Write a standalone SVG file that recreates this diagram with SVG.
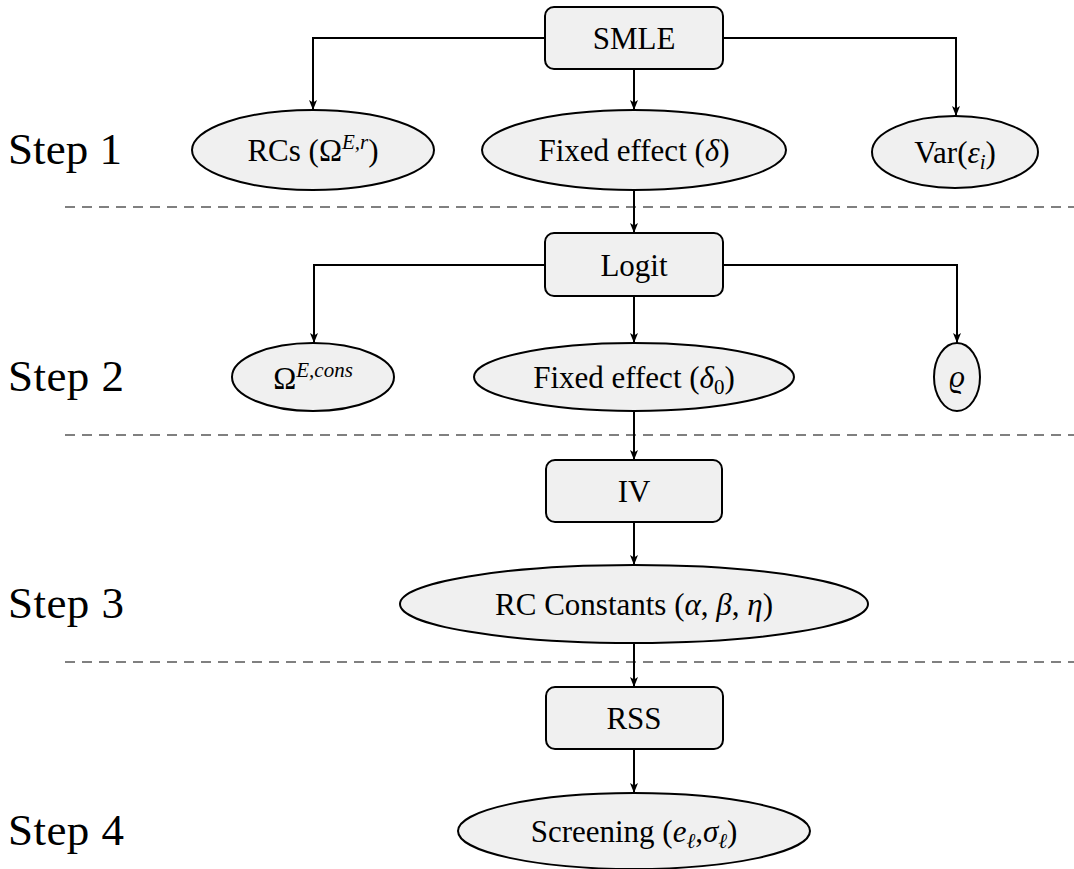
<svg xmlns="http://www.w3.org/2000/svg" width="1074" height="869" viewBox="0 0 1074 869">
<defs>
<marker id="arr" viewBox="0 0 10 10" refX="10" refY="5" markerWidth="10" markerHeight="10" markerUnits="userSpaceOnUse" orient="auto">
<path d="M0,1 L10,5 L0,9 L2.5,5 Z" fill="#000"/>
</marker>
<style>
.box{fill:#f0f0f0;stroke:#000;stroke-width:2}
.t{font-size:31px;fill:#000;text-anchor:middle}
.m{font-style:italic}
.step{font-size:45px;fill:#000}
.c{fill:none;stroke:#000;stroke-width:2;marker-end:url(#arr)}
.dash{stroke:#808080;stroke-width:2;stroke-dasharray:10 7}
</style>
</defs>
<rect width="1074" height="869" fill="#fff"/>
<g id="dashes">
<line class="dash" x1="65" y1="207" x2="1074" y2="207"/>
<line class="dash" x1="65" y1="435" x2="1074" y2="435"/>
<line class="dash" x1="65" y1="662" x2="1074" y2="662"/>
</g>
<g id="steps" font-family="Liberation Serif, serif">
<text class="step" x="8" y="164" textLength="114">Step 1</text>
<text class="step" x="8" y="391" textLength="116">Step 2</text>
<text class="step" x="8" y="618" textLength="116">Step 3</text>
<text class="step" x="8" y="845" textLength="116">Step 4</text>
</g>
<g id="connectors">
<path class="c" d="M545,38 H313 V110"/>
<path class="c" d="M634,69 V110"/>
<path class="c" d="M723,38 H956 V116"/>
<path class="c" d="M634,190 V233"/>
<path class="c" d="M545,265 H314 V343"/>
<path class="c" d="M634,296 V343"/>
<path class="c" d="M723,265 H957 V343"/>
<path class="c" d="M634,411 V460"/>
<path class="c" d="M634,522 V565"/>
<path class="c" d="M634,643 V687"/>
<path class="c" d="M634,749 V793"/>
</g>
<g id="nodes" font-family="Liberation Serif, serif">
<g id="smle">
<rect class="box" x="545" y="7" width="178" height="62" rx="9"/>
<text class="t" x="634" y="49">SMLE</text>
</g>
<g id="rcs">
<ellipse class="box" cx="313" cy="150" rx="121" ry="40"/>
<text class="t" x="313" y="161">RCs (Ω<tspan font-size="21" dy="-12" class="m">E,r</tspan><tspan dy="12">)</tspan></text>
</g>
<g id="fe">
<ellipse class="box" cx="634" cy="150" rx="152" ry="40"/>
<text class="t" x="634" y="161">Fixed effect (<tspan class="m">δ</tspan>)</text>
</g>
<g id="var">
<ellipse class="box" cx="955" cy="152" rx="83" ry="36"/>
<text class="t" x="955" y="163">Var(<tspan class="m">ε</tspan><tspan class="m" font-size="21" dy="6">i</tspan><tspan dy="-6">)</tspan></text>
</g>
<g id="logit">
<rect class="box" x="545" y="233" width="178" height="63" rx="9"/>
<text class="t" x="634" y="276">Logit</text>
</g>
<g id="omega">
<ellipse class="box" cx="313" cy="377" rx="81" ry="34"/>
<text class="t" x="313" y="389">Ω<tspan font-size="21" dy="-12" class="m">E,cons</tspan></text>
</g>
<g id="fe0">
<ellipse class="box" cx="634" cy="377" rx="160" ry="34"/>
<text class="t" x="634" y="388">Fixed effect (<tspan class="m">δ</tspan><tspan font-size="21" dy="6">0</tspan><tspan dy="-6">)</tspan></text>
</g>
<g id="rho">
<ellipse class="box" cx="957" cy="377" rx="23" ry="34"/>
<text class="t m" x="957" y="387">ϱ</text>
</g>
<g id="iv">
<rect class="box" x="546" y="460" width="176" height="62" rx="9"/>
<text class="t" x="634" y="502">IV</text>
</g>
<g id="rcconst">
<ellipse class="box" cx="634" cy="604" rx="234" ry="39"/>
<text class="t" x="634" y="615">RC Constants (<tspan class="m">α</tspan>, <tspan class="m">β</tspan>, <tspan class="m">η</tspan>)</text>
</g>
<g id="rss">
<rect class="box" x="546" y="687" width="177" height="62" rx="9"/>
<text class="t" x="634" y="729">RSS</text>
</g>
<g id="screening">
<ellipse class="box" cx="634" cy="831" rx="176" ry="38"/>
<text class="t" x="634" y="842">Screening (<tspan class="m">e</tspan><tspan class="m" font-size="21" dy="6">ℓ</tspan><tspan dy="-6">,</tspan><tspan class="m">σ</tspan><tspan class="m" font-size="21" dy="6">ℓ</tspan><tspan dy="-6">)</tspan></text>
</g>
</g>
</svg>
